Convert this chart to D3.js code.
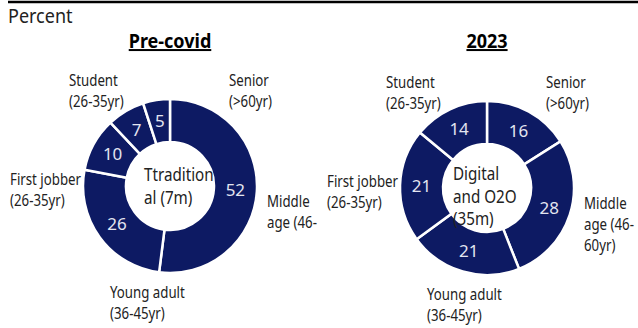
<!DOCTYPE html>
<html>
<head>
<meta charset="utf-8">
<script src="https://cdn.jsdelivr.net/npm/d3@7"></script>
<style>
  body { margin: 0; background: #fff; }
  svg text { font-family: "Noto Sans", "Open Sans", sans-serif; }
</style>
</head>
<body>
<script>
// values clockwise from 12 o'clock
const preCovid = [52, 26, 10, 7, 5]
const y2023 = [16, 28, 21, 21, 14]
const titles = ["Pre-covid", "2023"]
const centerText = [["Ttradition", "al (7m)"], ["Digital", "and O2O", "(35m)"]]
const segLabels = [
    ["Senior", "(>60yr)"],
    ["Middle", "age (46-", "60yr)"],
    ["Young adult", "(36-45yr)"],
    ["First jobber", "(26-35yr)"],
    ["Student", "(26-35yr)"]
]

const W = 638, H = 328
const navy = "#0d1a63"

const svg = d3.select("body").append("svg")
    .attr("width", W)
    .attr("height", H)

// the source font is a narrow humanist face, so squeeze Noto a bit
function addText(parent, x, y, str, size, sx) {
    return parent.append("text")
        .attr("transform", `translate(${x},${y}) scale(${sx},1)`)
        .attr("font-size", size)
        .attr("fill", "#222")
        .text(str)
}

svg.append("line")
    .attr("x1", 8).attr("x2", W)
    .attr("y1", 2).attr("y2", 2)
    .attr("stroke", "#000")
    .attr("stroke-width", 2.5)

addText(svg, 8, 23, "Percent", 20, 0.9)

const pie = d3.pie().sort(null).value(d => d)
const arc = d3.arc().innerRadius(44).outerRadius(87)

// label offsets from donut center (first line baseline)
const labelPos = [
    { dx: 59, dy: -100 },
    { dx: 97, dy: 21 },
    { dx: -60, dy: 112 },
    { dx: -160, dy: -1 },
    { dx: -101, dy: -100 }
]
const centers = [{ x: 170, y: 186 }, { x: 487, y: 188 }]
const centerBox = [{ dx: -26, dy: -5 }, { dx: -34, dy: -8 }]

function drawDonut(values, i) {
    const c = centers[i]
    const g = svg.append("g").attr("transform", `translate(${c.x},${c.y})`)

    addText(svg, c.x, 48, titles[i], 20, 0.9)
        .attr("text-anchor", "middle")
        .attr("font-weight", "bold")
        .attr("fill", "#000")
        .attr("text-decoration", "underline")

    g.selectAll("path")
        .data(pie(values))
        .enter()
        .append("path")
        .attr("d", arc)
        .attr("fill", navy)
        .attr("stroke", "#fff")
        .attr("stroke-width", 2.5)

    g.selectAll("text.val")
        .data(pie(values))
        .enter()
        .append("text")
        .attr("class", "val")
        .attr("x", d => arc.centroid(d)[0])
        .attr("y", d => arc.centroid(d)[1] + 6)
        .attr("text-anchor", "middle")
        .attr("font-size", 17)
        .attr("fill", "#e3e5f0")
        .text(d => d.data)

    const lines = centerText[i]
    lines.forEach((s, k) => {
        addText(g, centerBox[i].dx, centerBox[i].dy + k * 22.5, s, 19, 0.8)
    })

    segLabels.forEach((lab, k) => {
        let shown = lab
        // the left chart's middle-age label is clipped after two lines
        if (i == 0 && k == 1) shown = lab.slice(0, 2)
        shown.forEach((s, j) => {
            addText(g, labelPos[k].dx, labelPos[k].dy + j * 21, s, 17, 0.78)
        })
    })
}

drawDonut(preCovid, 0)
drawDonut(y2023, 1)
</script>
</body>
</html>
